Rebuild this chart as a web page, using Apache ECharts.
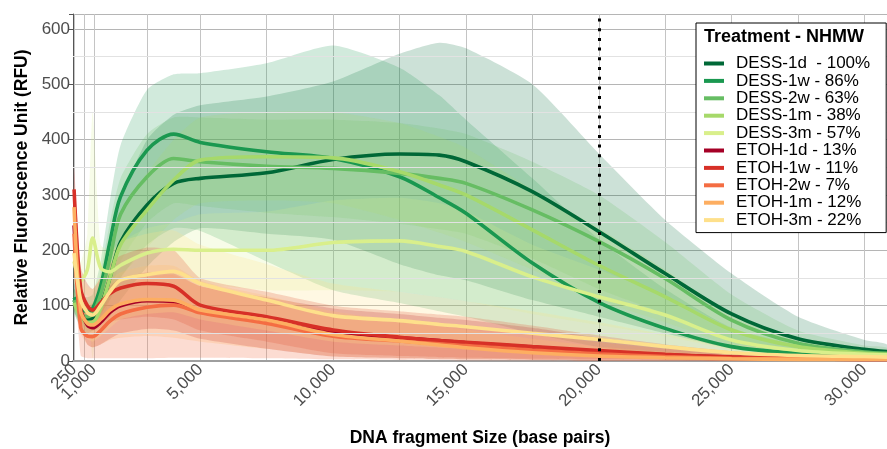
<!DOCTYPE html>
<html><head><meta charset="utf-8">
<script src="https://cdn.jsdelivr.net/npm/echarts@6/dist/echarts.min.js"></script>
<style>html,body{margin:0;padding:0;background:#fff}#c{width:887px;height:449px}</style>
</head><body><div id="c"></div>
<script>
// ---- data ----
const X = [250, 500, 750, 950, 1250, 1600, 2000, 3000, 4000, 5000, 7500, 10000, 12500, 14000, 15000, 17500, 20000, 22500, 25000, 27500, 30000, 30850];

const DESS_1d = [110, 85, 75, 78, 100, 150, 215, 282, 321, 330, 340, 364, 374, 372, 360, 306, 234, 158, 85, 40, 21, 17];
const DESS_1w = [115, 95, 90, 95, 135, 215, 297, 381, 410, 395, 378, 366, 333, 295, 267, 177, 106, 59, 26, 14, 10, 9];
const DESS_2w = [110, 85, 80, 85, 120, 185, 265, 333, 366, 360, 352, 348, 339, 330, 321, 273, 216, 149, 74, 32, 16, 14];
const DESS_1m = [105, 80, 70, 70, 95, 150, 210, 273, 327, 363, 369, 367, 342, 318, 300, 237, 173, 116, 56, 26, 14, 12];
const DESS_3m = [180, 145, 165, 222, 168, 161, 173, 195, 202, 200, 200, 214, 217, 207, 198, 152, 116, 83, 38, 19, 12, 11];
const ETOH_1d = [245, 95, 65, 60, 70, 88, 100, 109, 107, 90, 71, 52, 42, 37, 33, 25, 17, 11, 7, 4, 3, 3];
const ETOH_1w = [310, 130, 100, 92, 105, 122, 132, 140, 135, 101, 80, 56, 43, 37, 34, 26, 19, 12, 7, 5, 4, 4];
const ETOH_2w = [230, 60, 45, 44, 55, 72, 85, 97, 101, 87, 68, 45, 36, 31, 28, 20, 13, 8, 5, 4, 3, 3];
const ETOH_1m = [278, 90, 68, 65, 75, 92, 103, 111, 110, 92, 74, 48, 36, 29, 24, 15, 9, 6, 4, 3, 3, 3];
const ETOH_3m = [195, 110, 88, 83, 100, 125, 146, 156, 162, 140, 110, 82, 73, 66, 62, 50, 39, 26, 15, 10, 8, 7];

// ribbon bounds
const DESS_1d_lo = [90, 60, 50, 55, 65, 80, 110, 170, 215, 240, 230, 219, 175, 155, 146, 110, 80, 50, 22, 10, 5, 5];
const DESS_1d_hi = [130, 110, 100, 105, 140, 200, 290, 400, 445, 462, 478, 505, 555, 575, 565, 500, 375, 255, 158, 80, 38, 30];
const DESS_1w_lo = [90, 70, 65, 70, 85, 110, 150, 210, 240, 235, 180, 128, 105, 90, 80, 50, 25, 12, 6, 4, 3, 3];
const DESS_1w_hi = [140, 120, 115, 120, 180, 290, 390, 490, 518, 520, 538, 570, 530, 480, 436, 330, 220, 130, 60, 30, 18, 16];
const DESS_2w_lo = [90, 70, 60, 65, 80, 120, 180, 250, 285, 280, 268, 260, 248, 238, 230, 185, 130, 85, 35, 14, 7, 6];
const DESS_2w_hi = [130, 100, 95, 100, 160, 250, 330, 410, 440, 440, 436, 436, 430, 420, 410, 360, 300, 215, 120, 55, 28, 24];
const DESS_1m_lo = [85, 65, 55, 55, 70, 110, 150, 205, 255, 285, 290, 285, 255, 232, 215, 165, 110, 70, 30, 12, 6, 5];
const DESS_1m_hi = [125, 95, 85, 90, 130, 200, 270, 340, 400, 440, 450, 450, 430, 405, 385, 310, 240, 165, 85, 40, 22, 19];
const DESS_3m_lo = [140, 115, 120, 5, 125, 125, 135, 150, 155, 140, 128, 128, 125, 115, 108, 85, 65, 45, 20, 9, 6, 6];
const DESS_3m_hi = [230, 180, 230, 450, 210, 200, 215, 240, 250, 265, 270, 290, 295, 285, 270, 210, 165, 118, 60, 30, 18, 16];
const ETOH_1d_lo = [200, 60, 30, 25, 30, 40, 50, 58, 55, 40, 22, 8, 5, 4, 3, 2, 1, 1, 0, 0, 0, 0];
const ETOH_1d_hi = [290, 130, 100, 95, 110, 135, 150, 160, 158, 135, 115, 95, 85, 78, 74, 60, 42, 28, 17, 10, 7, 6];
const ETOH_1w_lo = [270, 90, 60, 55, 60, 70, 75, 80, 75, 55, 35, 14, 9, 7, 6, 4, 3, 2, 1, 1, 1, 1];
const ETOH_1w_hi = [350, 170, 140, 130, 150, 175, 190, 205, 200, 150, 125, 100, 90, 84, 80, 64, 46, 30, 18, 11, 8, 7];
const ETOH_2w_lo = [180, 10, 5, 5, 5, 5, 5, 5, 6, 6, 5, 3, 2, 2, 1, 1, 0, 0, 0, 0, 0, 0];
const ETOH_2w_hi = [270, 95, 78, 75, 92, 115, 132, 150, 155, 135, 110, 85, 72, 67, 62, 48, 34, 22, 13, 8, 6, 5];
const ETOH_1m_lo = [230, 50, 30, 25, 30, 38, 42, 45, 42, 35, 22, 8, 5, 4, 3, 2, 1, 1, 1, 1, 1, 1];
const ETOH_1m_hi = [320, 130, 105, 105, 120, 145, 160, 172, 172, 145, 118, 90, 72, 63, 57, 40, 26, 17, 11, 8, 6, 5];
const ETOH_3m_lo = [150, 60, 40, 35, 45, 60, 75, 85, 88, 75, 55, 35, 28, 24, 22, 16, 11, 7, 4, 3, 2, 2];
const ETOH_3m_hi = [240, 160, 135, 130, 155, 190, 215, 230, 236, 210, 175, 140, 125, 115, 108, 90, 70, 48, 30, 20, 14, 12];

const NAMES = ['DESS-1d  - 100%', 'DESS-1w - 86%', 'DESS-2w - 63%', 'DESS-1m - 38%', 'DESS-3m - 57%',
               'ETOH-1d - 13%', 'ETOH-1w - 11%', 'ETOH-2w - 7%', 'ETOH-1m - 12%', 'ETOH-3m - 22%'];
const COLORS = ['#006837', '#1a9850', '#66bd63', '#a6d96a', '#d9ef8b',
                '#a50026', '#d73027', '#f46d43', '#fdae61', '#fee08b'];
const MEANS = [DESS_1d, DESS_1w, DESS_2w, DESS_1m, DESS_3m, ETOH_1d, ETOH_1w, ETOH_2w, ETOH_1m, ETOH_3m];
const LOWS = [DESS_1d_lo, DESS_1w_lo, DESS_2w_lo, DESS_1m_lo, DESS_3m_lo, ETOH_1d_lo, ETOH_1w_lo, ETOH_2w_lo, ETOH_1m_lo, ETOH_3m_lo];
const HIGHS = [DESS_1d_hi, DESS_1w_hi, DESS_2w_hi, DESS_1m_hi, DESS_3m_hi, ETOH_1d_hi, ETOH_1w_hi, ETOH_2w_hi, ETOH_1m_hi, ETOH_3m_hi];
const BAND_ALPHA = [0.2, 0.2, 0.2, 0.2, 0.2, 0.24, 0.24, 0.24, 0.24, 0.24];

const X_MIN = 210, X_MAX = 30850;
const X_LABELS = [250, 1000, 5000, 10000, 15000, 20000, 25000, 30000];
const X_GRID = [250, 625, 1000, 3000, 5000, 7500, 10000, 12500, 15000, 17500, 20000, 22500, 25000, 27500, 30000];
const Y_MINOR = [50, 150, 250, 350, 450, 550];
const CUTOFF = 20000;

const FONT = 'Liberation Sans, Arial, Helvetica, sans-serif';

// ---- chart ----
const chart = echarts.init(document.getElementById('c'), null, {renderer: 'canvas'});

function ribbon(i) {
  const lo = LOWS[i], hi = HIGHS[i];
  return {
    type: 'custom', name: NAMES[i] + ' band', silent: true, clip: true, z: 2,
    data: X.map((x, k) => [x, lo[k], hi[k]]),
    encode: {x: 0, y: [1, 2]},
    renderItem: function (params, api) {
      if (params.dataIndex !== 0) return null;
      const pts = [];
      for (let k = 0; k < X.length; k++) pts.push(api.coord([X[k], hi[k]]));
      for (let k = X.length - 1; k >= 0; k--) pts.push(api.coord([X[k], lo[k]]));
      return {type: 'polygon', shape: {points: pts, smooth: 0.2},
              style: {fill: COLORS[i], opacity: BAND_ALPHA[i]}};
    }
  };
}

function line(i) {
  return {
    type: 'line', name: NAMES[i], silent: true, z: 3,
    data: X.map((x, k) => [x, MEANS[i][k]]),
    showSymbol: false, symbol: 'none', smooth: 0.3,
    lineStyle: {width: 3.6, color: COLORS[i]},
    itemStyle: {color: COLORS[i]}
  };
}

const series = [];
series.push({
  type: 'line', data: [], silent: true, z: 1,
  markLine: {silent: true, symbol: 'none', label: {show: false}, animation: false,
    lineStyle: {color: '#e2e2e2', width: 1, type: 'solid'},
    data: Y_MINOR.map(v => ({yAxis: v}))}
});
for (let i = 0; i < NAMES.length; i++) series.push(ribbon(i));
for (let i = 0; i < NAMES.length; i++) series.push(line(i));
series.push({
  type: 'line', data: [], silent: true, z: 10,
  markLine: {silent: true, symbol: 'none', label: {show: false}, animation: false,
    lineStyle: {color: '#000', width: 3, type: [3, 6.7]},
    data: [{xAxis: CUTOFF}]}
});

chart.setOption({
  animation: false,
  grid: {left: 73, right: 0, top: 14, bottom: 88, containLabel: false, outerBoundsMode: 'none'},
  xAxis: {
    type: 'value', min: X_MIN, max: X_MAX,
    name: 'DNA fragment Size (base pairs)', nameLocation: 'middle', nameGap: 68,
    nameTextStyle: {fontFamily: FONT, fontSize: 17.5, fontWeight: 'bold', color: '#000'},
    axisLine: {show: true, lineStyle: {color: '#9e9e9e', width: 2}},
    axisTick: {show: false, customValues: X_GRID},
    splitLine: {show: true, lineStyle: {color: '#c4c4c4', width: 1}},
    axisLabel: {customValues: [X_MIN].concat(X_LABELS), rotate: 45, fontFamily: FONT, fontSize: 17, color: '#4d4d4d', margin: 6,
      hideOverlap: false,
      formatter: v => (X_LABELS.indexOf(Number(v)) >= 0 ? Number(v).toLocaleString('en-US') : '')}
  },
  yAxis: {
    type: 'value', min: 0, max: 627, interval: 100,
    name: 'Relative Fluorescence Unit (RFU)', nameLocation: 'middle', nameGap: 42,
    nameTextStyle: {fontFamily: FONT, fontSize: 17.5, fontWeight: 'bold', color: '#000'},
    axisLine: {show: true, lineStyle: {color: '#555', width: 1}},
    axisTick: {show: true, length: 4, lineStyle: {color: '#555'}},
    splitLine: {show: true, lineStyle: {color: '#b5b5b5', width: 1}},
    axisLabel: {fontFamily: FONT, fontSize: 17, color: '#4d4d4d', margin: 3, hideOverlap: false,
      formatter: v => (v % 100 === 0 ? String(v) : '')}
  },
  legend: {
    data: NAMES, orient: 'vertical', left: 696, top: 23, z: 20,
    padding: [32, 16, 4, 8], itemGap: 0.4, itemWidth: 20, itemHeight: 4, icon: 'rect',
    backgroundColor: '#fff', borderColor: '#000', borderWidth: 1, selectedMode: false,
    textStyle: {fontFamily: FONT, fontSize: 17, color: '#000', lineHeight: 17, padding: [0, 0, 0, 7]}
  },
  graphic: [{
    type: 'text', left: 704, top: 28, z: 30,
    style: {text: 'Treatment - NHMW', font: 'bold 18px ' + FONT, fill: '#000'}
  }],
  series: series
});
</script></body></html>
